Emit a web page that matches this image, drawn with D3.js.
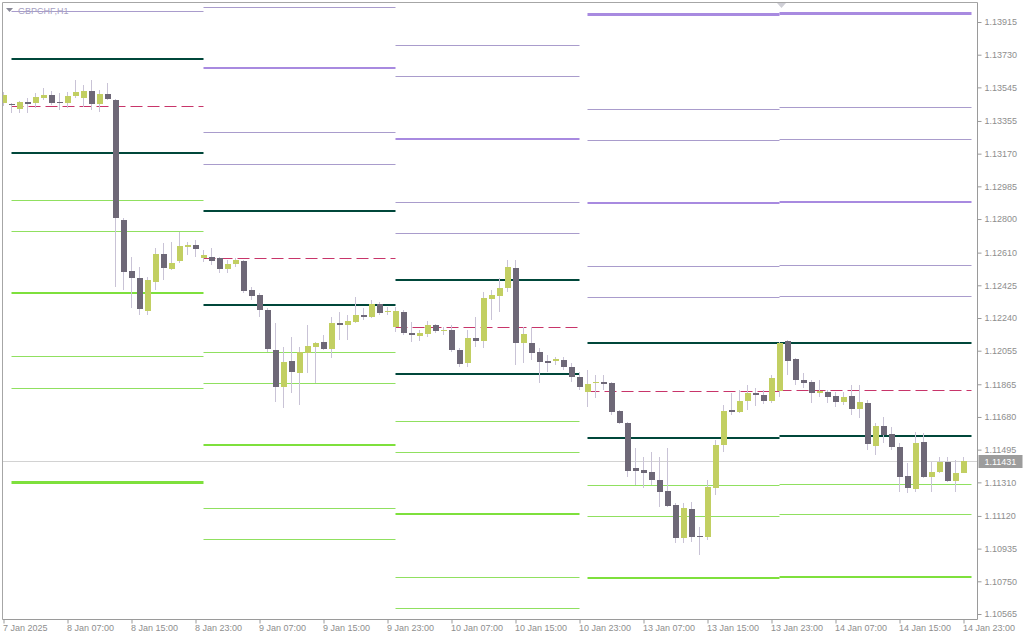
<!DOCTYPE html>
<html><head><meta charset="utf-8">
<script src="https://cdn.jsdelivr.net/npm/d3@7"></script>
<style>
body{margin:0;background:#fff;}
svg{display:block;font-family:"Liberation Sans",Arial,sans-serif;}
</style>
</head><body>
<svg id="chart" width="1024" height="640"></svg>
<script>
// ---------- DATA ----------
const symbolTitle = "GBPCHF,H1";
const timeLabels = ["7 Jan 2025","8 Jan 07:00","8 Jan 15:00","8 Jan 23:00","9 Jan 07:00","9 Jan 15:00","9 Jan 23:00","10 Jan 07:00","10 Jan 15:00","10 Jan 23:00","13 Jan 07:00","13 Jan 15:00","13 Jan 23:00","14 Jan 07:00","14 Jan 15:00","14 Jan 23:00"];
const tickBars = [0,8,16,24,32,40,48,56,64,72,80,88,96,104,112,120];
const priceTicks = [1.13915,1.13730,1.13545,1.13355,1.13170,1.12985,1.12800,1.12610,1.12425,1.12240,1.12055,1.11865,1.11680,1.11495,1.11310,1.11120,1.10935,1.10750,1.10565];
const currentPrice = 1.11431;

const opens = [1.13456,1.13451,1.13423,1.13462,1.13456,1.13485,1.13502,1.13462,1.13456,1.13496,1.13485,1.13524,1.13451,1.13507,1.13473,1.12794,1.12506,1.12466,1.12279,1.12443,
1.12602,1.12517,1.12562,1.12641,1.12653,1.12579,1.12585,1.12579,1.12517,1.12545,1.12562,1.12398,1.12370,1.12285,1.12058,1.11849,1.11996,1.11928,1.12042,1.12075,
1.12104,1.12064,1.12211,1.12200,1.12217,1.12257,1.12245,1.12319,1.12274,1.12189,1.12274,1.12155,1.12138,1.12149,1.12200,1.12166,1.12172,1.12058,1.11985,1.12126,
1.12109,1.12347,1.12364,1.12409,1.12523,1.12098,1.12098,1.12047,1.11996,1.11996,1.12002,1.11962,1.11906,1.11821,1.11872,1.11877,1.11872,1.11713,1.11645,1.11391,
1.11379,1.11368,1.11323,1.11260,1.11181,1.10994,1.11159,1.11006,1.11000,1.11277,1.11521,1.11719,1.11708,1.11770,1.11815,1.11804,1.11770,1.11826,1.12109,1.12008,
1.11889,1.11877,1.11815,1.11821,1.11798,1.11764,1.11798,1.11725,1.11759,1.11515,1.11628,1.11583,1.11509,1.11345,1.11272,1.11538,1.11340,1.11368,1.11425,1.11317,1.11362];
const highs = [1.13519,1.13456,1.13468,1.13485,1.13513,1.13541,1.13524,1.13513,1.13519,1.13587,1.13558,1.13587,1.13530,1.13570,1.13479,1.12806,1.12585,1.12528,1.12472,1.12636,
1.12664,1.12670,1.12726,1.12670,1.12681,1.12624,1.12636,1.12585,1.12568,1.12579,1.12568,1.12415,1.12381,1.12296,1.12211,1.12075,1.12132,1.12075,1.12200,1.12104,
1.12143,1.12245,1.12274,1.12257,1.12358,1.12296,1.12341,1.12330,1.12302,1.12302,1.12285,1.12217,1.12172,1.12223,1.12206,1.12189,1.12200,1.12070,1.12172,1.12245,
1.12387,1.12398,1.12466,1.12568,1.12568,1.12189,1.12189,1.12070,1.12030,1.12019,1.12019,1.11985,1.11934,1.11945,1.11917,1.11917,1.11877,1.11719,1.11651,1.11504,
1.11453,1.11481,1.11453,1.11504,1.11193,1.11193,1.11198,1.11057,1.11323,1.11549,1.11747,1.11815,1.11832,1.11860,1.11843,1.11832,1.11917,1.12104,1.12115,1.12013,
1.11928,1.11889,1.11889,1.11832,1.11821,1.11821,1.11860,1.11860,1.11775,1.11645,1.11679,1.11623,1.11532,1.11419,1.11594,1.11589,1.11425,1.11453,1.11453,1.11436,1.11453];
const lows = [1.13440,1.13400,1.13400,1.13400,1.13428,1.13473,1.13445,1.13417,1.13428,1.13485,1.13434,1.13417,1.13406,1.13473,1.12415,1.12398,1.12296,1.12257,1.12257,1.12398,
1.12455,1.12511,1.12551,1.12596,1.12585,1.12557,1.12540,1.12494,1.12494,1.12528,1.12381,1.12341,1.12245,1.12047,1.11764,1.11730,1.11815,1.11747,1.11928,1.11872,
1.12058,1.12013,1.12115,1.12115,1.12211,1.12228,1.12240,1.12257,1.12257,1.12160,1.12143,1.12104,1.12109,1.12132,1.12155,1.12143,1.12047,1.11962,1.11962,1.12075,
1.12070,1.12228,1.12274,1.12387,1.11974,1.11985,1.12002,1.11872,1.11934,1.11974,1.11945,1.11877,1.11832,1.11736,1.11787,1.11832,1.11691,1.11640,1.11340,1.11294,
1.11277,1.11294,1.11170,1.11170,1.10966,1.10966,1.10972,1.10898,1.10983,1.11238,1.11481,1.11691,1.11702,1.11719,1.11742,1.11753,1.11759,1.11792,1.11917,1.11860,
1.11843,1.11759,1.11792,1.11759,1.11736,1.11747,1.11691,1.11674,1.11492,1.11464,1.11532,1.11492,1.11255,1.11249,1.11255,1.11334,1.11255,1.11362,1.11311,1.11255,1.11362];
const closes = [1.13502,1.13445,1.13462,1.13451,1.13490,1.13502,1.13456,1.13456,1.13496,1.13519,1.13524,1.13451,1.13507,1.13479,1.12806,1.12500,1.12466,1.12291,1.12455,1.12602,
1.12523,1.12551,1.12647,1.12653,1.12630,1.12596,1.12562,1.12517,1.12545,1.12568,1.12392,1.12364,1.12285,1.12064,1.11849,1.11991,1.11934,1.12047,1.12081,1.12098,
1.12064,1.12211,1.12200,1.12223,1.12257,1.12245,1.12319,1.12268,1.12279,1.12279,1.12155,1.12143,1.12155,1.12200,1.12166,1.12172,1.12058,1.11979,1.12126,1.12109,
1.12353,1.12370,1.12409,1.12528,1.12098,1.12149,1.12042,1.11991,1.11985,1.12008,1.11962,1.11906,1.11849,1.11866,1.11877,1.11866,1.11708,1.11645,1.11374,1.11374,
1.11362,1.11323,1.11255,1.11176,1.10994,1.11164,1.11000,1.11000,1.11283,1.11521,1.11713,1.11708,1.11770,1.11815,1.11804,1.11770,1.11900,1.12098,1.11996,1.11889,
1.11872,1.11815,1.11826,1.11792,1.11764,1.11792,1.11725,1.11764,1.11526,1.11628,1.11577,1.11509,1.11340,1.11277,1.11532,1.11340,1.11368,1.11425,1.11317,1.11362,1.11431];

// daily pivot sessions (bar index where each day's levels start / end)
const sessionStart = [1, 25, 49, 73, 97];
const sessionEnd   = [25, 49, 72, 97, 121];
// level values per session (null = not shown / out of view)
const pivotLevel = [1.13440,1.12579,1.12189,1.11826,1.11832];
const midUpper   = [1.13706,1.12845,1.12455,1.12098,1.12098];
const midLower   = [1.13174,1.12313,1.11923,1.11560,1.11572];
const res1a = [1.13977,1.13111,1.12721,1.12358,1.12364];
const res1b = [null,1.13292,1.12896,1.12534,1.12540];
const res2  = [null,1.13655,1.13253,1.12891,1.12896];
const res3a = [null,1.14000,1.13609,1.13247,1.13253];
const res3b = [null,null,1.13785,1.13423,1.13434];
const res4  = [null,null,null,1.13960,1.13966];
const sup1a = [1.12908,1.12047,1.11657,1.11294,1.11300];
const sup1b = [1.12732,1.11872,1.11481,1.11119,1.11130];
const sup2  = [1.12381,1.11521,1.11130,1.10768,1.10774];
const sup3a = [1.12025,1.11164,1.10774,null,null];
const sup3b = [1.11843,1.10989,1.10598,null,null];
const sup4  = [1.11312,null,null,null,null];

// ---------- DRAW ----------
const svg = d3.select("#chart");
const W = 1024, H = 640;
const plot = {left: 2.5, top: 2.5, right: 977.5, bottom: 619.5};

const x = d3.scaleLinear().domain([0, 120]).range([3.5, 963.5]);
const y = d3.scaleLinear().domain([1.10565, 1.13915]).range([614, 22]);

svg.append("rect").attr("width", W).attr("height", H).attr("fill", "#ffffff");

svg.append("defs").append("clipPath").attr("id", "clip")
  .append("rect").attr("x", plot.left + 0.5).attr("y", plot.top + 0.5)
  .attr("width", plot.right - plot.left - 1).attr("height", plot.bottom - plot.top - 1);

const g = svg.append("g").attr("clip-path", "url(#clip)");

// current price line
g.append("line").attr("x1", plot.left).attr("x2", plot.right)
  .attr("y1", Math.round(y(currentPrice)) + 0.5).attr("y2", Math.round(y(currentPrice)) + 0.5)
  .attr("stroke", "#d2d2d2").attr("stroke-width", 1);

const levelSets = [
  {vals: res3b, color: "#a99ccc", w: 1},
  {vals: res3a, color: "#a99ccc", w: 1},
  {vals: res1b, color: "#a99ccc", w: 1},
  {vals: res1a, color: "#a99ccc", w: 1},
  {vals: res2,  color: "#a88ae0", w: 2},
  {vals: res4,  color: "#a88ae0", w: 3},
  {vals: sup1a, color: "#90e060", w: 1},
  {vals: sup1b, color: "#90e060", w: 1},
  {vals: sup3a, color: "#90e060", w: 1},
  {vals: sup3b, color: "#90e060", w: 1},
  {vals: sup2,  color: "#7ee03c", w: 2},
  {vals: sup4,  color: "#7ee03c", w: 3},
  {vals: midUpper, color: "#00473a", w: 2},
  {vals: midLower, color: "#00473a", w: 2},
  {vals: pivotLevel, color: "#c8356a", w: 1, dash: "12,5"}
];

levelSets.forEach(set => {
  set.vals.forEach((v, d) => {
    if (v == null) return;
    const yy = set.w % 2 === 1 ? Math.round(y(v)) + 0.5 : Math.round(y(v));
    g.append("line")
      .attr("x1", x(sessionStart[d])).attr("x2", x(sessionEnd[d]))
      .attr("y1", yy).attr("y2", yy)
      .attr("stroke", set.color).attr("stroke-width", set.w)
      .attr("stroke-dasharray", set.dash || null);
  });
});

// candles
const candles = opens.map((o, i) => ({i, o, h: highs[i], l: lows[i], c: closes[i]}));
const cg = g.append("g").attr("shape-rendering", "crispEdges");
cg.selectAll("line.wick").data(candles).join("line").attr("class", "wick")
  .attr("x1", d => x(d.i)).attr("x2", d => x(d.i))
  .attr("y1", d => y(d.h)).attr("y2", d => y(d.l))
  .attr("stroke", "#c9c3d6").attr("stroke-width", 1);
cg.selectAll("rect.body").data(candles).join("rect").attr("class", "body")
  .attr("x", d => Math.floor(x(d.i)) - 2)
  .attr("width", 6)
  .attr("y", d => Math.round(y(Math.max(d.o, d.c))))
  .attr("height", d => Math.max(1, Math.round(Math.abs(y(d.o) - y(d.c)))))
  .attr("fill", d => d.c >= d.o ? "#c2cf62" : "#6e6877");

// frame
const frame = svg.append("g").attr("stroke", "#a6a6a6").attr("stroke-width", 1).attr("fill", "none");
frame.append("line").attr("x1", plot.left).attr("x2", plot.right).attr("y1", plot.top).attr("y2", plot.top);
frame.append("line").attr("x1", plot.left).attr("x2", plot.left).attr("y1", plot.top).attr("y2", plot.bottom);
frame.append("line").attr("x1", plot.right).attr("x2", plot.right).attr("y1", plot.top).attr("y2", plot.bottom).attr("stroke", "#9a9a9a");
frame.append("line").attr("x1", plot.left).attr("x2", plot.right).attr("y1", plot.bottom).attr("y2", plot.bottom).attr("stroke", "#9a9a9a");

// right price axis
const yAxis = d3.axisRight(y).tickValues(priceTicks).tickSize(4).tickSizeOuter(0).tickPadding(3)
  .tickFormat(d3.format(".5f"));
const ya = svg.append("g").attr("transform", `translate(${plot.right},0)`).call(yAxis);
ya.select(".domain").remove();
ya.selectAll(".tick line").attr("stroke", "#9a9a9a");
ya.selectAll(".tick text").attr("fill", "#8e8e8e").attr("font-size", 9).attr("font-family", "Liberation Sans, Arial, sans-serif");

// bottom time axis
const xAxis = d3.axisBottom(x).tickValues(tickBars).tickSize(4).tickSizeOuter(0).tickPadding(1)
  .tickFormat((d, i) => timeLabels[i]);
const xa = svg.append("g").attr("transform", `translate(0,${plot.bottom})`).call(xAxis);
xa.select(".domain").remove();
xa.selectAll(".tick line").attr("stroke", "#9a9a9a");
xa.selectAll(".tick text").attr("fill", "#8e8e8e").attr("font-size", 9)
  .attr("text-anchor", "start").attr("dx", -1)
  .attr("font-family", "Liberation Sans, Arial, sans-serif");

// current price label
const cy = y(currentPrice);
svg.append("rect").attr("x", plot.right + 1).attr("y", Math.round(cy) - 6).attr("width", 44).attr("height", 13).attr("fill", "#9c9c9c");
svg.append("text").attr("x", plot.right + 7).attr("y", Math.round(cy) + 4)
  .attr("fill", "#ffffff").attr("font-size", 9).text(d3.format(".5f")(currentPrice));

// title
svg.append("path").attr("d", "M6,8 L13,8 L9.5,12 Z").attr("fill", "#8a8a98");
svg.append("text").attr("x", 18).attr("y", 14).attr("fill", "#a6a1c2").attr("font-size", 9).text(symbolTitle);

// shift marker
svg.append("path").attr("d", "M777,3 L786,3 L781.5,8 Z").attr("fill", "#cfcfd6");
</script>
</body></html>
